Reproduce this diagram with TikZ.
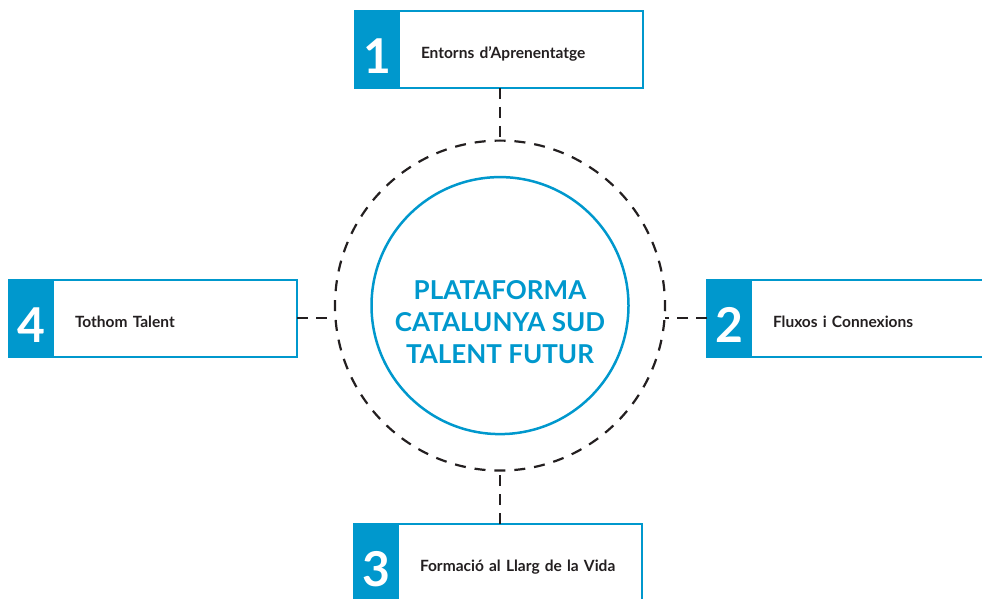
\documentclass[tikz,border=0pt]{standalone}
\usepackage{fontspec}
\setmainfont{Lato}
\usetikzlibrary{
	positioning,
	shapes,
}
\definecolor{TalentBlue}{HTML}{0098CD}
\definecolor{TalentInk}{HTML}{231F20}

\begin{document}
\begin{tikzpicture}	[
				x=1pt,y=1pt,
				every node/.style={align=center,outer sep=0pt},
				tab/.style={fill=TalentBlue,draw=TalentBlue,line width=2pt,minimum width=44pt,minimum height=77pt,inner sep=0pt,text=white,font=\fontsize{48}{48}\selectfont\bfseries,text height=49pt,text depth=0pt},
				card/.style={draw=TalentBlue,line width=2pt,minimum height=77pt,text width=222pt,inner xsep=11pt,align=left,text=TalentInk,font=\fontsize{15.5}{18}\selectfont\bfseries,text height=18pt,text depth=0pt,execute at begin node=\hspace*{11pt}},
				hub/.style={circle,draw=TalentBlue,line width=2.5pt,minimum size=257pt},
				dashring/.style={circle,draw=TalentInk,line width=2.2pt,minimum size=330pt,dash pattern=on 11pt off 8.937pt,dash phase=5.5pt},
				link/.style={draw=TalentInk,line width=2.2pt,dash pattern=on 11pt off 8pt},
			]
			\clip (0,0) rectangle (982,598);

			\node (hub) [hub] at (500,292.4) {};
			\node (ring) [dashring] at (hub) {};
			\node (title) [text=TalentBlue,font=\fontsize{26}{32}\selectfont\bfseries] at (500,276) {PLATAFORMA\\CATALUNYA SUD\\TALENT FUTUR};

			\node (num1) [tab] at (377,548.5) {1};
			\node (entorns) [card,right=0pt of num1] {Entorns d’Aprenentatge};
			\node (num2) [tab] at (729,280) {2};
			\node (fluxos) [card,right=0pt of num2] {Fluxos i Connexions};
			\node (num3) [tab] at (376,36) {3};
			\node (formacio) [card,right=0pt of num3] {Formació al Llarg de la Vida};
			\node (num4) [tab] at (31,280) {4};
			\node (tothom) [card,right=0pt of num4] {Tothom Talent};

			\draw[link] (ring.north |- num1.south) -- (ring.north);
			\draw[link] (ring.south |- num3.north) -- (ring.south);
			\draw[link] (tothom.east) -- (tothom.east -| ring.west);
			\draw[link] (num2.west) -- (num2.west -| ring.east);
		\end{tikzpicture}
\end{document}
